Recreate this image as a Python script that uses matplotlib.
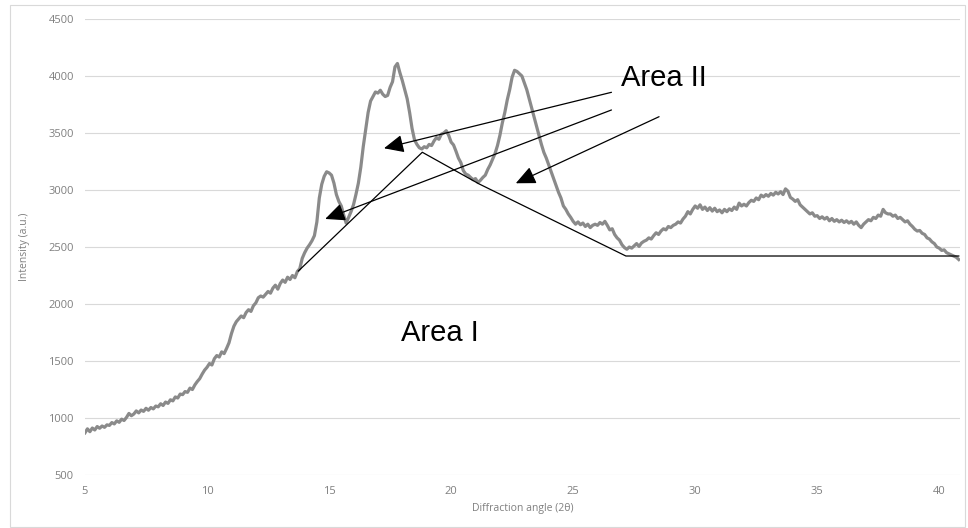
import matplotlib
matplotlib.use('Agg')
import matplotlib.pyplot as plt
import numpy as np

# 2-theta grid of the scan, 0.1 deg step
two_theta = np.round(np.arange(5.0, 40.85, 0.1), 1)

# measured intensity, one row per degree
intensity = [
    870, 905, 880, 912, 895, 925, 910, 930, 918, 940,
    935, 960, 948, 975, 962, 990, 978, 1005, 1040, 1020,
    1035, 1062, 1045, 1070, 1058, 1085, 1068, 1092, 1080, 1105,
    1098, 1125, 1110, 1140, 1128, 1160, 1150, 1185, 1175, 1210,
    1205, 1232, 1225, 1262, 1250, 1290, 1320, 1345, 1385, 1420,
    1445, 1478, 1465, 1520, 1548, 1535, 1580, 1565, 1610, 1660,
    1740, 1805, 1845, 1870, 1895, 1880, 1925, 1950, 1935, 1985,
    2010, 2055, 2070, 2060, 2085, 2110, 2095, 2140, 2165, 2130,
    2180, 2210, 2190, 2235, 2215, 2250, 2230, 2285, 2310, 2400,
    2450, 2490, 2520, 2555, 2600, 2720, 2930, 3050, 3120, 3160,
    3150, 3130, 3060, 2960, 2900, 2860, 2780, 2710, 2760, 2810,
    2870, 2960, 3060, 3200, 3380, 3530, 3680, 3780, 3820, 3860,
    3850, 3875, 3840, 3820, 3830, 3900, 3950, 4080, 4110, 4030,
    3960, 3880, 3800, 3680, 3540, 3440, 3400, 3370, 3360, 3380,
    3370, 3400, 3390, 3430, 3460, 3445, 3490, 3500, 3520, 3480,
    3420, 3395, 3340, 3280, 3240, 3170, 3140, 3130, 3110, 3090,
    3100, 3065, 3085, 3110, 3130, 3180, 3220, 3270, 3320, 3390,
    3480, 3590, 3680, 3790, 3880, 3990, 4050, 4040, 4020, 4000,
    3940, 3880, 3800, 3720, 3640, 3560, 3480, 3400, 3330, 3280,
    3220, 3160, 3100, 3040, 2980, 2930, 2860, 2830, 2790, 2760,
    2725, 2700, 2720, 2695, 2710, 2680, 2700, 2670, 2690, 2700,
    2690, 2715, 2700, 2725, 2690, 2650, 2660, 2610, 2580, 2560,
    2520, 2495, 2480, 2500, 2490, 2510, 2530, 2505, 2535, 2550,
    2560, 2580, 2570, 2600, 2625, 2610, 2640, 2660, 2650, 2680,
    2670, 2690, 2700, 2720, 2710, 2745, 2770, 2810, 2790, 2830,
    2860, 2840, 2870, 2830, 2850, 2820, 2845, 2815, 2840, 2810,
    2825, 2800, 2830, 2810, 2835, 2820, 2850, 2830, 2885, 2860,
    2875, 2860, 2890, 2910, 2900, 2930, 2915, 2955, 2940, 2960,
    2945, 2970, 2955, 2980, 2965, 2985, 2960, 3010, 2990, 2935,
    2920, 2900, 2915, 2870, 2850, 2830, 2810, 2790, 2800, 2770,
    2775, 2750, 2765, 2745, 2760, 2730, 2750, 2725, 2740, 2720,
    2735, 2715, 2730, 2710, 2725, 2700, 2720, 2690, 2670, 2700,
    2720, 2740, 2730, 2760, 2750, 2780, 2770, 2830, 2800, 2790,
    2790, 2770, 2780, 2750, 2760, 2740, 2720, 2730, 2700, 2680,
    2655, 2640, 2645, 2620, 2610, 2580, 2570, 2545, 2530, 2500,
    2490, 2470, 2475, 2450, 2440, 2430, 2420, 2410, 2390,
]

# amorphous baseline separating Area I (below) from Area II (peaks)
base_x = [13.74, 18.82, 21.15, 27.16, 40.8]
base_y = [2289, 3331, 3053, 2421, 2421]

# "Area II" arrows: (start x, start y, tip x, tip y)
arrows = [
    (26.57, 3857, 17.25, 3366),
    (26.57, 3702, 14.84, 2746),
    (28.52, 3643, 22.65, 3059),
]

y_ticks = [500, 1000, 1500, 2000, 2500, 3000, 3500, 4000, 4500]
x_ticks = [5, 10, 15, 20, 25, 30, 35, 40]

fig = plt.figure(figsize=(9.68, 5.28), dpi=100)
ax = fig.add_axes([85 / 968, 53 / 528, 875 / 968, 456 / 528])

# chart frame
fig.patches.append(plt.Rectangle((10 / 968, 1 / 528), 955 / 968, 522 / 528,
                                 transform=fig.transFigure, fill=False,
                                 edgecolor='#d9d9d9', lw=0.8))

ax.plot(two_theta, intensity, color='#8a8a8a', lw=2.3, zorder=3)
ax.plot(base_x, base_y, color='black', lw=0.9, zorder=4)

for sx, sy, tx, ty in arrows:
    ax.annotate('', xy=(tx, ty), xytext=(sx, sy),
                arrowprops=dict(arrowstyle='-|>,head_length=0.55,head_width=0.25',
                                mutation_scale=22, color='black', lw=0.9,
                                shrinkA=0, shrinkB=0), zorder=5)

ax.text(28.73, 3982, 'Area II', fontsize=21, family='Liberation Sans',
        ha='center', va='center', zorder=6)
ax.text(19.55, 1746, 'Area I', fontsize=21, family='Liberation Sans',
        ha='center', va='center', zorder=6)

ax.set_xlim(5, 40.85)
ax.set_ylim(500, 4500)
ax.set_xticks(x_ticks)
ax.set_yticks(y_ticks)
ax.grid(axis='y', color='#d9d9d9', lw=0.8)
ax.set_axisbelow(True)
for s in ax.spines.values():
    s.set_visible(False)
ax.tick_params(length=0, labelsize=8, labelcolor='#7f7f7f', pad=8)
for lab in ax.get_xticklabels() + ax.get_yticklabels():
    lab.set_family('Open Sans')

ax.set_xlabel('Diffraction angle (2θ)', fontsize=7.5, color='#7f7f7f',
              family='Open Sans', labelpad=4)
ax.set_ylabel('Intensity (a.u.)', fontsize=7.5, color='#7f7f7f',
              family='Open Sans', labelpad=13)

fig.savefig('out.png', dpi=100)
